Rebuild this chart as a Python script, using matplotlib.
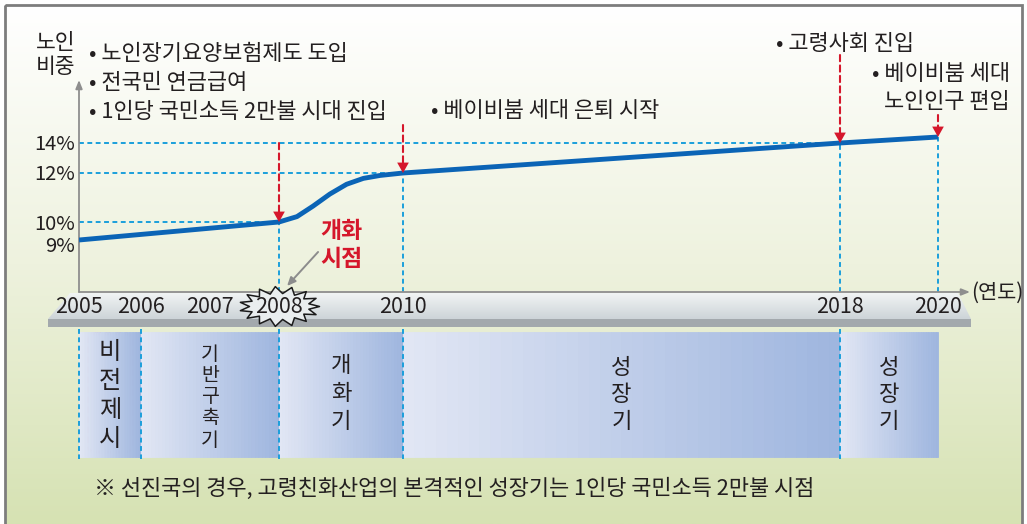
import numpy as np
import matplotlib
matplotlib.use('Agg')
import matplotlib.pyplot as plt
import matplotlib.transforms as mtransforms
from matplotlib.colors import LinearSegmentedColormap
from matplotlib.patches import Rectangle, Polygon, FancyBboxPatch
from matplotlib.path import Path

plt.rcParams['font.family'] = ['Noto Sans CJK KR', 'DejaVu Sans']
plt.rcParams['font.weight'] = 'medium'

# 노인 비중 추이 (연도, %)
years = [2005, 2008, 2008.29, 2008.55, 2008.82, 2009.09, 2009.36, 2009.63, 2010, 2018, 2020]
share = [9.0, 10.0, 10.22, 10.65, 11.14, 11.54, 11.78, 11.9, 12.0, 14.0, 14.4]

year_ticks = [2005, 2006, 2007, 2008, 2010, 2018, 2020]
share_ticks = [9, 10, 12, 14]
share_labels = ['9%', '10%', '12%', '14%']

# 주요 시점
event_years = [2008, 2010, 2018, 2020]
event_share = [10, 12, 14, 14.4]

# 단계 구분
phase_start = [2005, 2006, 2008, 2010, 2018]
phase_end = [2006, 2008, 2010, 2018, 2020]
phase_names = ['비전제시', '기반구축기', '개화기', '성장기', '성장기']

# 축 간격이 일정하지 않아서 눈금 위치를 픽셀로 맞춤
tick_px = [79, 141, 210, 279, 403, 840, 938]
share_px = [240, 222, 173, 143]

W, H = 1027, 524
red = '#d5172b'
cyan = '#1b9fdb'
ink = '#231f20'


def piecewise(src, dst):
    src = np.asarray(src, float)
    dst = np.asarray(dst, float)
    lo = (dst[1] - dst[0]) / (src[1] - src[0])
    hi = (dst[-1] - dst[-2]) / (src[-1] - src[-2])

    def f(v):
        v = np.asarray(v, float)
        out = np.interp(v, src, dst)
        out = np.where(v < src[0], dst[0] + (v - src[0]) * lo, out)
        out = np.where(v > src[-1], dst[-1] + (v - src[-1]) * hi, out)
        return out
    return f


fig = plt.figure(figsize=(W / 100, H / 100), dpi=100)

# 배경 (픽셀 좌표)
bg = fig.add_axes([0, 0, 1, 1], zorder=0)
bg.set_xlim(0, W)
bg.set_ylim(H, 0)
bg.axis('off')
bg_cmap = LinearSegmentedColormap.from_list('bg', ['#ffffff', '#eef2de', '#d6e2b3'])
bg.imshow(np.linspace(0, 1, 200)[:, None], extent=(5, 1022, H, 5), aspect='auto',
          cmap=bg_cmap, origin='upper')
bg.add_patch(Rectangle((5, 5), 1017, 540, fill=False, ec='#7d7d7d', lw=2))

# 연도 막대(입체)
face = Polygon([(70, 293), (958, 293), (971, 319), (48, 319)], closed=True,
               fc='none', ec='none')
bg.add_patch(face)
slab_cmap = LinearSegmentedColormap.from_list('slab', ['#f1f4f4', '#cdd4d8'])
im = bg.imshow(np.linspace(0, 1, 50)[:, None], extent=(48, 971, 319, 293),
               aspect='auto', cmap=slab_cmap, origin='upper')
im.set_clip_path(face)
bg.add_patch(Rectangle((48, 319), 923, 8, fc='#a3a9ad', ec='none'))
bg.set_xlim(0, W)
bg.set_ylim(H, 0)

# 본 그래프
L, R, B, T = 79, 970, 292, 80
ax = fig.add_axes([L / W, (H - B) / H, (R - L) / W, (B - T) / H], zorder=1)
ax.set_facecolor('none')
xf = piecewise(year_ticks, tick_px)
xi = piecewise(tick_px, year_ticks)
yf = piecewise(share_ticks, [H - p for p in share_px])
yi = piecewise([H - p for p in share_px], share_ticks)
ax.set_xscale('function', functions=(xf, xi))
ax.set_yscale('function', functions=(yf, yi))
ax.set_xlim(2005, float(xi(R)))
ax.set_ylim(float(yi(H - B)), float(yi(H - T)))
for s in ax.spines.values():
    s.set_visible(False)
ax.set_xticks([])
ax.set_yticks([])

pix_y = mtransforms.blended_transform_factory(ax.transData, bg.transData)

# 축 화살표
ax.annotate('', xy=(0, 1.0), xytext=(0, 0), xycoords='axes fraction',
            arrowprops=dict(arrowstyle='-|>,head_length=0.5,head_width=0.2',
                            color='#8e8e8e', lw=1.3, shrinkA=0, shrinkB=0))
ax.annotate('', xy=(1.0, 0), xytext=(0, 0), xycoords='axes fraction',
            arrowprops=dict(arrowstyle='-|>,head_length=0.5,head_width=0.2',
                            color='#8e8e8e', lw=1.3, shrinkA=0, shrinkB=0))

# 보조 점선
ylo = ax.get_ylim()[0]
for yr, v in zip(event_years[:3], event_share[:3]):
    ax.plot([2005, yr], [v, v], color=cyan, lw=1.4, ls=(0, (2.5, 1.8)), zorder=2)
for yr, v in zip(event_years, event_share):
    ax.plot([yr, yr], [ylo, v], color=cyan, lw=1.4, ls=(0, (2.5, 1.8)), zorder=2)

# 노인 비중 선
ax.plot(years, share, color='#0b64b6', lw=3.5, solid_capstyle='butt',
        solid_joinstyle='round', zorder=5)

# 빨간 화살표
arrow_len = [79, 48, 88, 22]
for yr, v, ln in zip(event_years, event_share, arrow_len):
    ax.annotate('', xy=(yr, v), xytext=(0, ln), textcoords='offset pixels',
                arrowprops=dict(arrowstyle='-', color=red, lw=1.5, ls=(0, (3, 2)),
                                shrinkA=0, shrinkB=7), zorder=6)
    ax.annotate('', xy=(yr, v), xytext=(0, 11), textcoords='offset pixels',
                arrowprops=dict(arrowstyle='-|>,head_length=0.75,head_width=0.42',
                                color=red, lw=0, shrinkA=0, shrinkB=0,
                                mutation_scale=10), zorder=6)

# y축 눈금 글자
for v, lab in zip(share_ticks, share_labels):
    dy = 6 if v == 9 else 2
    ax.text(2005, v, lab, transform=ax.transData + mtransforms.Affine2D().translate(-4, -dy),
            ha='right', va='center', fontsize=14.5, color=ink)

# 단계 띠
band_cmap = LinearSegmentedColormap.from_list('band', ['#e1e6f4', '#9fb6df'])
for s, e in zip(phase_start, phase_end):
    xs = np.linspace(s, e, 41)
    for k in range(40):
        c = band_cmap(k / 39)
        ax.add_patch(Rectangle((xs[k], 332), xs[k + 1] - xs[k], 125, transform=pix_y,
                               fc=c, ec=c, lw=0.6, clip_on=False, zorder=1))
for yr in phase_start:
    ax.plot([yr, yr], [329, 459], transform=pix_y, color=cyan, lw=1.4,
            ls=(0, (2.5, 1.8)), clip_on=False, zorder=2)

phase_y0 = [352, 354, 366, 367, 367]
phase_step = [29, 21.5, 28, 27.5, 27.5]
phase_fs = [17.5, 14, 16, 16, 16]
for s, e, name, y0, st, fs in zip(phase_start, phase_end, phase_names,
                                  phase_y0, phase_step, phase_fs):
    for i, ch in enumerate(name):
        ax.text((s + e) / 2, y0 + i * st, ch, transform=pix_y, ha='center',
                va='center', fontsize=fs, color=ink, clip_on=False, zorder=3)

# 비전제시 빨간 점선 상자
cx = pix_y.transform((2005.5, 0))[0]
r = 7
bg.add_patch(FancyBboxPatch((cx - 22 + r, 334 + r), 44 - 2 * r, 118 - 2 * r,
                            boxstyle=f'round,pad={r}', fill=False, ec=red, lw=2,
                            ls=(0, (2.2, 1.4)), zorder=5))

# 2008 별 모양
n = 15
ang = np.linspace(0, 2 * np.pi, 2 * n, endpoint=False)
outer = np.arange(2 * n) % 2 == 0
sx = np.where(outer, 40, 30) * np.cos(ang)
sy = np.where(outer, 20, 13) * np.sin(ang)
verts = np.column_stack([np.append(sx, sx[0]), np.append(sy, sy[0])])
star = Path(verts, closed=True)
ax.plot([2008], [306], transform=pix_y, marker=star, ms=80 * 0.72, mfc='#e9edee',
        mec='#1a1a1a', mew=1.1, clip_on=False, zorder=4)

# x축 연도 글자
for yr in year_ticks:
    ax.text(yr, 307, str(yr), transform=pix_y, ha='center', va='center',
            fontsize=15.5, color=ink, clip_on=False, zorder=6)
bg.text(971, 293, '(연도)', ha='left', va='center', fontsize=15, color=ink)

# 개화 시점
ax.text(2009.0, 231, '개화', transform=pix_y, ha='center', va='center', fontsize=16.5,
        fontweight='bold', color=red, zorder=6)
ax.text(2009.0, 259, '시점', transform=pix_y, ha='center', va='center', fontsize=16.5,
        fontweight='bold', color=red, zorder=6)
ax.annotate('', xy=(2008.13, 286), xytext=(2008.63, 252), xycoords=pix_y,
            textcoords=pix_y,
            arrowprops=dict(arrowstyle='-|>,head_length=0.5,head_width=0.22',
                            color='#8c8c8c', lw=1.4, shrinkA=0, shrinkB=0), zorder=6)

# 설명 글
fs = 15.8
bg.text(36, 43, '노인', ha='left', va='center', fontsize=15.5, color=ink)
bg.text(36, 67, '비중', ha='left', va='center', fontsize=15.5, color=ink)
bg.text(89, 54, '• 노인장기요양보험제도 도입', ha='left', va='center', fontsize=fs, color=ink)
bg.text(89, 83, '• 전국민 연금급여', ha='left', va='center', fontsize=fs, color=ink)
bg.text(89, 112, '• 1인당 국민소득 2만불 시대 진입', ha='left', va='center', fontsize=fs, color=ink)
bg.text(431, 111, '• 베이비붐 세대 은퇴 시작', ha='left', va='center', fontsize=fs, color=ink)
bg.text(776, 44, '• 고령사회 진입', ha='left', va='center', fontsize=fs, color=ink)
bg.text(872, 74, '• 베이비붐 세대', ha='left', va='center', fontsize=fs, color=ink)
bg.text(884, 102, '노인인구 편입', ha='left', va='center', fontsize=fs, color=ink)
bg.text(94, 489, '※ 선진국의 경우, 고령친화산업의 본격적인 성장기는 1인당 국민소득 2만불 시점',
        ha='left', va='center', fontsize=15.8, color=ink)

fig.savefig('out.png', dpi=100)
